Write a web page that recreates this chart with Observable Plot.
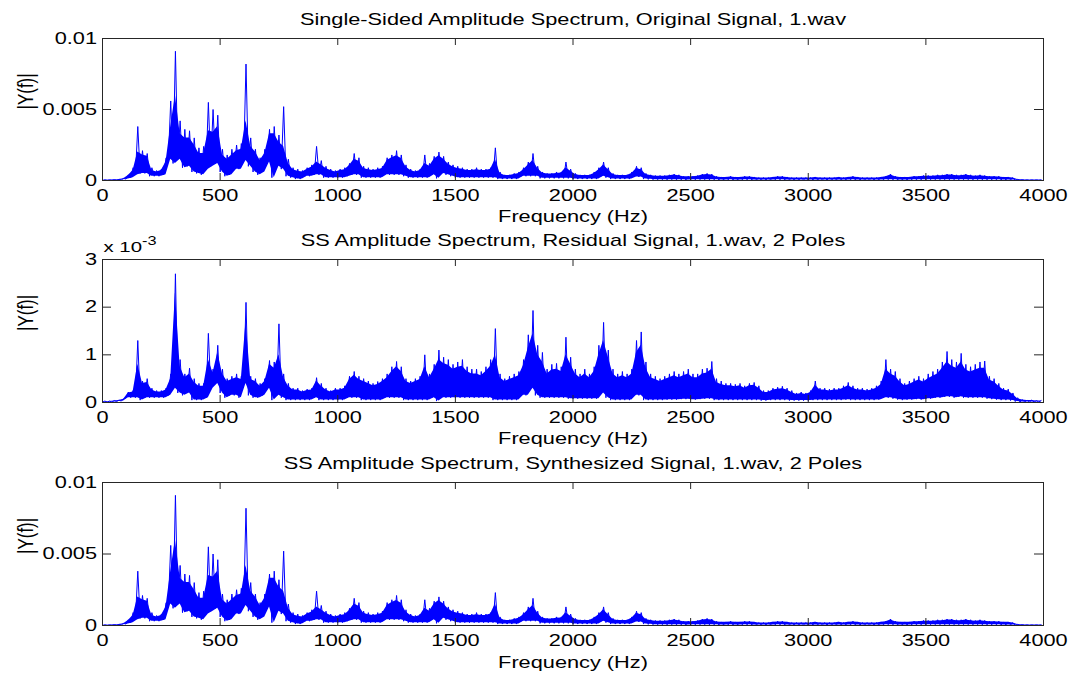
<!DOCTYPE html>
<html><head><meta charset="utf-8">
<script src="https://cdn.jsdelivr.net/npm/d3@7"></script>
<script src="https://cdn.jsdelivr.net/npm/@observablehq/plot@0.6"></script>
<style>
body{margin:0;background:#fff;}
#chart svg{display:block;overflow:visible;}
</style></head><body><div id="chart"></div>
<script>
// Spectrum: 20 Hz bins, amplitude in units of 1e-3.
// hi = spike tops, mid = top of the dense band, lo = bottom of the dense band.
const binHz = 20;
const origHi = [
0.05,0.05,0.06,0.08,0.15,0.4,0.9,3.8,2.1,1.9,
0.9,0.7,0.8,1.6,5.6,9.1,4.2,3.6,3.5,3.0,
2.3,2.4,5.5,5.0,4.6,2.2,1.8,2.2,2.5,2.6,
8.2,3.0,2.2,1.6,2.2,3.6,3.8,3.2,5.2,1.5,
0.9,0.8,0.7,0.9,1.1,2.4,1.4,1.0,0.8,0.7,
0.8,0.9,1.2,1.9,1.6,1.0,0.9,0.8,0.9,1.0,
1.6,1.8,2.1,1.8,1.1,0.8,0.7,0.8,1.8,1.2,
1.7,2.0,1.7,1.3,1.1,1.0,0.9,0.8,0.8,0.9,
0.8,0.8,0.9,2.3,0.6,0.4,0.4,0.5,0.6,0.9,
1.3,1.9,1.0,0.6,0.5,0.5,0.6,0.6,1.3,0.8,
0.5,0.4,0.4,0.4,0.6,0.9,1.3,0.9,0.5,0.4,
0.4,0.4,0.6,1.0,0.9,0.5,0.4,0.35,0.35,0.35,
0.4,0.45,0.4,0.3,0.3,0.3,0.35,0.45,0.5,0.45,
0.3,0.25,0.25,0.3,0.25,0.25,0.3,0.3,0.25,0.2,
0.2,0.2,0.25,0.3,0.3,0.25,0.2,0.2,0.2,0.2,
0.2,0.25,0.2,0.2,0.2,0.2,0.25,0.2,0.25,0.3,
0.25,0.2,0.2,0.2,0.2,0.25,0.3,0.45,0.3,0.25,
0.25,0.25,0.3,0.3,0.35,0.35,0.35,0.4,0.4,0.45,
0.45,0.4,0.4,0.45,0.4,0.35,0.4,0.35,0.3,0.3,
0.3,0.25,0.25,0.2,0.08,0.06,0.05,0.05,0.05,0.05];
const origMid = [
0.03,0.04,0.05,0.07,0.12,0.35,0.7,2.0,1.8,1.7,
0.7,0.6,0.7,1.3,3.8,6.0,3.3,3.0,3.0,2.5,
1.9,1.9,3.5,3.4,3.8,1.8,1.5,1.8,2.1,2.2,
4.2,2.4,2.0,1.4,1.9,3.3,3.3,2.7,2.4,1.2,
0.75,0.65,0.6,0.8,0.95,1.3,1.1,0.85,0.7,0.6,
0.7,0.75,1.05,1.5,1.35,0.85,0.75,0.7,0.75,0.85,
1.4,1.6,1.75,1.55,0.95,0.7,0.6,0.7,1.2,1.0,
1.5,1.75,1.5,1.15,0.95,0.85,0.8,0.7,0.7,0.75,
0.7,0.7,0.8,1.5,0.5,0.35,0.35,0.42,0.5,0.75,
1.1,1.4,0.85,0.52,0.45,0.45,0.5,0.52,0.9,0.65,
0.42,0.35,0.35,0.35,0.5,0.75,1.1,0.75,0.42,0.35,
0.35,0.35,0.5,0.85,0.75,0.42,0.35,0.3,0.3,0.3,
0.34,0.38,0.34,0.26,0.26,0.26,0.3,0.38,0.42,0.38,
0.25,0.22,0.22,0.25,0.22,0.22,0.25,0.25,0.22,0.18,
0.18,0.18,0.22,0.25,0.25,0.22,0.18,0.18,0.18,0.18,
0.18,0.22,0.18,0.18,0.18,0.18,0.22,0.18,0.22,0.25,
0.22,0.18,0.18,0.18,0.18,0.22,0.26,0.38,0.26,0.22,
0.22,0.22,0.26,0.26,0.3,0.3,0.3,0.34,0.34,0.38,
0.38,0.34,0.34,0.38,0.34,0.3,0.34,0.3,0.26,0.26,
0.25,0.22,0.22,0.17,0.07,0.05,0.04,0.04,0.04,0.04];
const origLo = [
0.01,0.01,0.02,0.03,0.05,0.1,0.2,0.4,0.5,0.5,
0.3,0.3,0.3,0.4,1.5,1.2,1.5,0.9,1.0,0.6,
0.5,0.4,0.8,1.0,1.2,0.6,0.3,0.4,0.8,0.8,
1.4,1.0,0.6,0.4,0.6,1.3,0.2,1.0,0.8,0.3,
0.2,0.1,0.1,0.3,0.3,0.4,0.4,0.2,0.2,0.2,
0.2,0.2,0.3,0.4,0.4,0.2,0.2,0.2,0.2,0.2,
0.4,0.4,0.4,0.4,0.3,0.2,0.2,0.2,0.2,0.2,
0.4,0.15,0.5,0.4,0.3,0.2,0.2,0.2,0.2,0.2,
0.2,0.2,0.2,0.2,0.1,0.1,0.1,0.1,0.1,0.3,
0.3,0.3,0.3,0.15,0.15,0.15,0.15,0.15,0.15,0.15,
0.1,0.1,0.1,0.1,0.1,0.1,0.3,0.2,0.1,0.1,
0.1,0.1,0.1,0.25,0.25,0.1,0.08,0.06,0.06,0.06,
0.05,0.06,0.05,0.05,0.04,0.05,0.05,0.06,0.06,0.05,
0.05,0.04,0.04,0.05,0.04,0.04,0.05,0.05,0.04,0.04,
0.04,0.04,0.04,0.05,0.05,0.04,0.04,0.04,0.04,0.04,
0.04,0.04,0.04,0.04,0.04,0.04,0.04,0.04,0.04,0.05,
0.04,0.04,0.04,0.04,0.04,0.04,0.05,0.06,0.05,0.04,
0.04,0.04,0.05,0.05,0.05,0.05,0.06,0.06,0.06,0.06,
0.06,0.06,0.06,0.06,0.06,0.05,0.06,0.05,0.05,0.05,
0.05,0.04,0.04,0.04,0.02,0.02,0.02,0.02,0.02,0.02];
const resHi = [
0.03,0.03,0.04,0.05,0.08,0.22,0.25,1.3,0.45,0.5,
0.3,0.25,0.25,0.3,0.6,2.7,0.9,0.6,0.72,0.5,
0.4,0.4,1.45,0.7,1.2,0.7,0.5,0.55,0.6,0.55,
2.1,0.55,0.5,0.4,0.5,0.88,0.85,1.65,0.6,0.4,
0.3,0.3,0.25,0.28,0.3,0.52,0.4,0.3,0.25,0.3,
0.3,0.35,0.55,0.65,0.55,0.5,0.45,0.4,0.44,0.5,
0.6,0.75,0.86,0.75,0.5,0.45,0.5,0.55,1.0,0.6,
0.8,1.1,0.95,0.9,0.8,0.85,0.9,0.75,0.7,0.7,
0.65,0.75,0.9,1.55,0.6,0.5,0.55,0.6,0.65,0.9,
1.42,1.93,1.2,1.05,0.7,0.8,0.82,0.75,1.37,0.95,
0.7,0.6,0.7,0.6,0.75,1.2,1.68,1.1,0.7,0.6,
0.65,0.6,0.7,1.3,1.48,0.85,0.6,0.55,0.5,0.55,
0.6,0.65,0.6,0.65,0.7,0.6,0.6,0.7,0.72,0.86,
0.5,0.45,0.4,0.4,0.38,0.4,0.35,0.4,0.42,0.35,
0.25,0.25,0.3,0.32,0.34,0.3,0.25,0.2,0.22,0.2,
0.25,0.45,0.3,0.3,0.28,0.3,0.3,0.35,0.42,0.35,
0.3,0.3,0.28,0.3,0.35,0.45,0.9,0.7,0.65,0.5,
0.4,0.45,0.5,0.55,0.5,0.6,0.65,0.7,0.85,1.07,
0.9,0.85,1.03,0.8,0.75,0.8,0.85,0.87,0.55,0.5,
0.4,0.3,0.28,0.2,0.1,0.06,0.05,0.05,0.04,0.04];
const resMid = [
0.02,0.02,0.03,0.04,0.07,0.2,0.22,0.8,0.4,0.42,
0.26,0.22,0.22,0.26,0.5,2.3,0.75,0.52,0.6,0.42,
0.34,0.34,0.9,0.62,1.05,0.6,0.44,0.48,0.52,0.48,
1.7,0.48,0.44,0.34,0.44,0.8,0.72,1.0,0.52,0.34,
0.26,0.26,0.22,0.25,0.26,0.45,0.34,0.26,0.22,0.26,
0.26,0.3,0.48,0.57,0.48,0.44,0.4,0.35,0.38,0.44,
0.52,0.65,0.75,0.65,0.44,0.4,0.44,0.48,0.75,0.52,
0.7,0.9,0.82,0.78,0.7,0.74,0.76,0.65,0.6,0.6,
0.56,0.65,0.76,1.0,0.52,0.44,0.48,0.52,0.56,0.78,
1.15,1.45,1.0,0.85,0.6,0.68,0.7,0.65,1.0,0.8,
0.6,0.52,0.6,0.52,0.65,1.0,1.3,0.95,0.6,0.52,
0.56,0.52,0.6,1.05,1.2,0.72,0.52,0.48,0.44,0.48,
0.52,0.56,0.52,0.56,0.6,0.52,0.52,0.6,0.62,0.7,
0.42,0.38,0.35,0.35,0.33,0.35,0.3,0.35,0.36,0.3,
0.21,0.21,0.26,0.28,0.29,0.26,0.21,0.17,0.19,0.17,
0.21,0.36,0.26,0.26,0.24,0.26,0.26,0.3,0.35,0.3,
0.26,0.26,0.24,0.26,0.3,0.38,0.7,0.6,0.55,0.43,
0.35,0.38,0.43,0.47,0.43,0.5,0.55,0.6,0.72,0.85,
0.76,0.72,0.85,0.68,0.64,0.68,0.72,0.72,0.47,0.43,
0.34,0.26,0.24,0.17,0.08,0.05,0.04,0.04,0.03,0.03];
const resLo = [
0.01,0.01,0.01,0.02,0.03,0.1,0.1,0.1,0.05,0.1,
0.1,0.1,0.1,0.1,0.15,0.3,0.2,0.15,0.2,0.05,
0.05,0.05,0.1,0.3,0.4,0.2,0.1,0.15,0.15,0.1,
0.4,0.15,0.1,0.1,0.15,0.3,0.05,0.15,0.1,0.05,
0.05,0.05,0.05,0.05,0.05,0.1,0.05,0.05,0.05,0.05,
0.05,0.05,0.1,0.1,0.1,0.05,0.05,0.05,0.05,0.05,
0.1,0.1,0.1,0.1,0.05,0.05,0.05,0.05,0.05,0.05,
0.1,0.03,0.1,0.1,0.1,0.1,0.1,0.1,0.1,0.1,
0.1,0.1,0.1,0.05,0.05,0.05,0.05,0.05,0.05,0.15,
0.15,0.3,0.15,0.1,0.1,0.1,0.1,0.1,0.1,0.08,
0.08,0.08,0.08,0.08,0.08,0.08,0.2,0.1,0.05,0.05,
0.05,0.05,0.05,0.15,0.15,0.05,0.05,0.05,0.05,0.05,
0.06,0.06,0.06,0.07,0.07,0.06,0.06,0.07,0.08,0.08,
0.05,0.05,0.05,0.05,0.05,0.05,0.05,0.05,0.05,0.05,
0.04,0.04,0.05,0.05,0.05,0.05,0.04,0.04,0.04,0.04,
0.04,0.05,0.05,0.05,0.05,0.05,0.05,0.05,0.06,0.05,
0.05,0.05,0.05,0.05,0.05,0.06,0.1,0.1,0.08,0.06,
0.05,0.06,0.06,0.07,0.06,0.08,0.08,0.1,0.1,0.12,
0.12,0.1,0.12,0.1,0.1,0.1,0.1,0.1,0.08,0.07,
0.06,0.05,0.05,0.04,0.02,0.01,0.01,0.01,0.01,0.01];
// synthesized signal spectrum looks identical to the original
const synthHi = origHi.slice();
const synthMid = origMid.slice();
const synthLo = origLo.slice();

const xTicks = [0,500,1000,1500,2000,2500,3000,3500,4000];
const xTickLabels = ["0","500","1000","1500","2000","2500","3000","3500","4000"];
const yTicksA = [0,5,10];
const yTickLabelsA = ["0","0.005","0.01"];
const yTicksB = [0,1,2,3];
const yTickLabelsB = ["0","1","2","3"];
const titles = [
  "Single-Sided Amplitude Spectrum, Original Signal, 1.wav",
  "SS Amplitude Spectrum, Residual Signal, 1.wav, 2 Poles",
  "SS Amplitude Spectrum, Synthesized Signal, 1.wav, 2 Poles"
];
const xLabel = "Frequency (Hz)";
const yLabel = "|Y(f)|";
const expBase = "x 10", expPower = "-3";

const W = 1073, ML = 102, MR = 30;
const INK = "#262626";
const BLUE = "#0000ff";
const SX = 1.36;

function zig(hi, lo) {
  const pts = [];
  for (let i = 0; i < hi.length; i++) {
    pts.push({f: i * binHz, v: lo[i]});
    pts.push({f: i * binHz + binHz / 2, v: hi[i]});
  }
  return pts;
}
function band(mid, lo) {
  return mid.map((m, i) => ({f: i * binHz + binHz / 2, lo: lo[i], mid: m}));
}

function panel(p) {
  const fh = p.height - p.mt - p.mb, fw = W - ML - MR;
  const marks = [
    Plot.areaY(band(p.mid, p.lo), {x: "f", y1: "lo", y2: "mid", fill: BLUE}),
    Plot.line(zig(p.hi, p.lo), {x: "f", y: "v", stroke: BLUE, strokeWidth: 1}),
    Plot.frame({stroke: INK}),
    Plot.tickX(xTicks, {x: d => d, stroke: INK, insetTop: fh - 7}),
    Plot.tickX(xTicks, {x: d => d, stroke: INK, insetBottom: fh - 7}),
    Plot.tickY(p.yTicks, {y: d => d, stroke: INK, insetRight: fw - 9}),
    Plot.tickY(p.yTicks, {y: d => d, stroke: INK, insetLeft: fw - 9}),
    Plot.axisX(xTicks, {tickSize: 0, tickPadding: 9, label: null, fontSize: 16, fill: "#000",
      tickFormat: d => xTickLabels[xTicks.indexOf(d)]}),
    Plot.axisY(p.yTicks, {tickSize: 0, tickPadding: 5.5, label: null, fontSize: 16, fill: "#000",
      tickFormat: d => p.yLabels[p.yTicks.indexOf(d)]}),
    Plot.text([p.title], {text: d => d, frameAnchor: "top", dy: -19, lineAnchor: "middle", fontSize: 16, fill: "#000"}),
    Plot.text([xLabel], {text: d => d, frameAnchor: "bottom", dy: p.xlabDy, lineAnchor: "top", fontSize: 16, fill: "#000"}),
    Plot.text([yLabel], {text: d => d, frameAnchor: "left", dx: -77, rotate: -90, lineAnchor: "middle", fontSize: 17, fill: "#000"})
  ];
  if (p.exponent) {
    marks.push(Plot.text([expBase], {text: d => d, frameAnchor: "top-left", dx: 1, dy: -12, textAnchor: "start", lineAnchor: "middle", fontSize: 15, fill: "#000"}));
  }
  const svg = Plot.plot({
    width: W, height: p.height,
    marginLeft: ML, marginRight: MR, marginTop: p.mt, marginBottom: p.mb,
    style: {fontFamily: "'Liberation Sans', Arial, Helvetica, sans-serif", fontSize: "16px", background: "#fff", color: "#000", overflow: "visible"},
    x: {domain: [0, 4000]},
    y: {domain: [0, p.yMax]},
    marks
  });
  svg.querySelectorAll("text").forEach(t => {
    const tr = t.getAttribute("transform") || "";
    const s = /rotate/.test(tr) ? " scale(1,1.3)" : ` scale(${SX},1)`;
    t.setAttribute("transform", tr + s);
    if (p.exponent && t.textContent === expBase) {
      const ts = document.createElementNS("http://www.w3.org/2000/svg", "tspan");
      ts.setAttribute("dy", "-7");
      ts.setAttribute("font-size", "12");
      ts.textContent = expPower;
      t.appendChild(ts);
    }
  });
  return svg;
}

const chart = document.getElementById("chart");
chart.append(
  panel({hi: origHi, mid: origMid, lo: origLo, yMax: 10, yTicks: yTicksA, yLabels: yTickLabelsA, title: titles[0], height: 222, mt: 38, mb: 42, xlabDy: 30}),
  panel({hi: resHi, mid: resMid, lo: resLo, yMax: 3, yTicks: yTicksB, yLabels: yTickLabelsB, title: titles[1], height: 223, mt: 37, mb: 43, xlabDy: 30, exponent: true}),
  panel({hi: synthHi, mid: synthMid, lo: synthLo, yMax: 10, yTicks: yTicksA, yLabels: yTickLabelsA, title: titles[2], height: 232, mt: 37, mb: 52, xlabDy: 31.5})
);
</script></body></html>
